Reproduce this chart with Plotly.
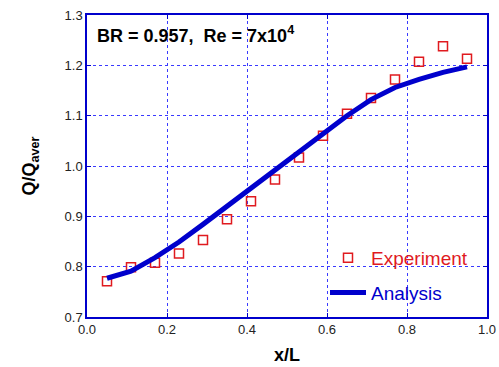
import plotly.graph_objects as go

x_pos = [0.05, 0.11, 0.17, 0.23, 0.29, 0.35, 0.41, 0.47, 0.53, 0.59, 0.65, 0.71, 0.77, 0.83, 0.89, 0.95]
experiment = [0.771, 0.799, 0.808, 0.826, 0.853, 0.894, 0.930, 0.973, 1.017, 1.060, 1.104, 1.135, 1.172, 1.207, 1.238, 1.213]
analysis = [0.777, 0.791, 0.818, 0.849, 0.884, 0.920, 0.956, 0.992, 1.028, 1.064, 1.100, 1.132, 1.156, 1.172, 1.186, 1.197]

x_ticks = [0.0, 0.2, 0.4, 0.6, 0.8, 1.0]
y_ticks = [0.7, 0.8, 0.9, 1.0, 1.1, 1.2, 1.3]

FONT = "Arial, Liberation Sans, sans-serif"
BLUE = "#0000cc"
RED = "#e01a1f"

fig = go.Figure()
fig.add_trace(go.Scatter(
    x=x_pos, y=experiment, mode="markers",
    name=f"<span style='color:{RED}'>Experiment</span>",
    legendgroup="a",
    marker=dict(symbol="square-open", size=9, color=RED, line=dict(width=1.5, color=RED)),
))
fig.add_trace(go.Scatter(
    x=x_pos, y=analysis, mode="lines",
    name=f"<span style='color:{BLUE}'>Analysis</span>",
    legendgroup="b",
    line=dict(color=BLUE, width=5),
))

# white area behind legend covering grid
fig.add_shape(type="rect", xref="x", yref="y", x0=0.567, x1=1.0, y0=0.7, y1=0.859,
              fillcolor="white", line=dict(width=0), layer="below")

fig.add_annotation(
    x=0.02, y=0.934, xref="paper", yref="paper", xanchor="left", yanchor="middle",
    text="<b>BR = 0.957,  Re = 7x10<sup>4</sup></b>", showarrow=False,
    font=dict(family=FONT, size=18, color="black"),
)

axis_common = dict(
    showline=True, linecolor=BLUE, linewidth=1.5, mirror="ticks",
    ticks="inside", ticklen=4, tickcolor=BLUE, tickwidth=1,
    showgrid=True, gridcolor="#3a3aff", gridwidth=1, griddash="dot",
    zeroline=False, automargin=False,
    tickfont=dict(family=FONT, size=13, color="#222222"),
)

fig.update_xaxes(
    range=[0.0, 1.0], tickvals=x_ticks, ticktext=[f"{v:.1f}" for v in x_ticks],
    title=dict(text="<b>x/L</b>", font=dict(family=FONT, size=18, color="black"), standoff=12),
    **axis_common,
)
fig.update_yaxes(
    range=[0.7, 1.3], tickvals=y_ticks, ticktext=[f"{v:.1f}" for v in y_ticks],
    title=dict(text="<b>Q/Q<sub>aver</sub></b>", font=dict(family=FONT, size=18, color="black"), standoff=24),
    **axis_common,
)

fig.update_layout(
    width=499, height=367,
    margin=dict(l=87, r=12, t=15, b=50),
    paper_bgcolor="white", plot_bgcolor="white",
    showlegend=True,
    legend=dict(
        x=0.595, y=0.017, xanchor="left", yanchor="bottom",
        bgcolor="rgba(0,0,0,0)", borderwidth=0,
        traceorder="grouped", tracegroupgap=7, itemwidth=36,
        font=dict(family=FONT, size=19),
    ),
    font=dict(family=FONT),
)

fig.write_html("out.html")
